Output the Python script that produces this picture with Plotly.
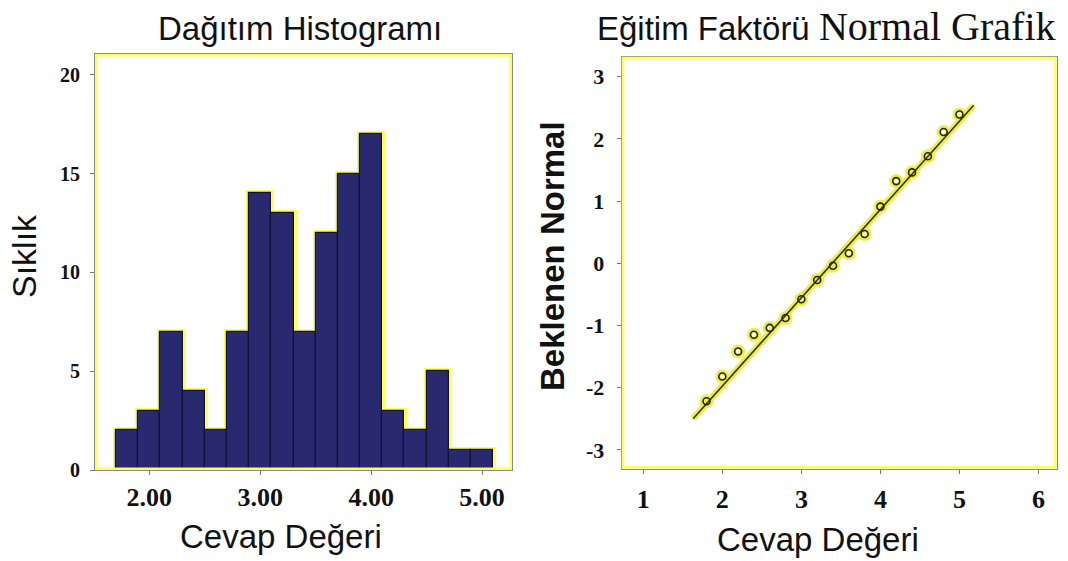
import plotly.graph_objects as go

# ---------------- data ----------------
hist_centers = [1.8, 2.0, 2.2, 2.4, 2.6, 2.8, 3.0, 3.2, 3.4, 3.6, 3.8, 4.0, 4.2, 4.4, 4.6, 4.8, 5.0]
hist_counts = [2, 3, 7, 4, 2, 7, 14, 13, 7, 12, 15, 17, 3, 2, 5, 1, 1]
bin_width = 0.2

qq_x = [1.8, 2.0, 2.2, 2.4, 2.6, 2.8, 3.0, 3.2, 3.4, 3.6, 3.8, 4.0, 4.2, 4.4, 4.6, 4.8, 5.0]
qq_y = [-2.22, -1.82, -1.42, -1.15, -1.04, -0.88, -0.58, -0.27, -0.04, 0.16, 0.47, 0.91,
        1.32, 1.46, 1.72, 2.11, 2.39]
line_x = [1.63, 5.18]
line_y = [-2.50, 2.54]

hist_xticks = [2, 3, 4, 5]
hist_xlabels = ["2.00", "3.00", "4.00", "5.00"]
hist_yticks = [0, 5, 10, 15, 20]
qq_xticks = [1, 2, 3, 4, 5, 6]
qq_yticks = [-3, -2, -1, 0, 1, 2, 3]
qq_ylabels = ["-3", "-2", "-1", "0", "1", "2", "3"]

# ---------------- layout helpers ----------------
W, H = 1068, 561
def px_x(p): return p / W
def px_y(p): return 1 - p / H

NAVY = "#29296F"
YEL = "#FFFF55"
GLOW = "#EEEE44"
SANS = "Liberation Sans, Arial, sans-serif"
SERIF = "Liberation Serif, Times New Roman, serif"

fig = go.Figure()

# histogram glow + bars
fig.add_trace(go.Bar(x=hist_centers, y=hist_counts, width=bin_width,
                     marker=dict(color=YEL, line=dict(color=YEL, width=6)),
                     xaxis="x", yaxis="y", showlegend=False, hoverinfo="skip"))
fig.add_trace(go.Bar(x=hist_centers, y=hist_counts, width=bin_width,
                     marker=dict(color=NAVY, line=dict(color="#111133", width=1.2)),
                     xaxis="x", yaxis="y", showlegend=False))

# Q-Q glow
fig.add_trace(go.Scatter(x=line_x, y=line_y, mode="lines",
                         line=dict(color=GLOW, width=7), xaxis="x2", yaxis="y2",
                         showlegend=False, hoverinfo="skip"))
fig.add_trace(go.Scatter(x=qq_x, y=qq_y, mode="markers",
                         marker=dict(symbol="circle-open", size=9, color=GLOW,
                                     line=dict(color=GLOW, width=5)),
                         xaxis="x2", yaxis="y2", showlegend=False, hoverinfo="skip"))
fig.add_trace(go.Scatter(x=line_x, y=line_y, mode="lines",
                         line=dict(color="#333322", width=1.6), xaxis="x2", yaxis="y2",
                         showlegend=False))
fig.add_trace(go.Scatter(x=qq_x, y=qq_y, mode="markers",
                         marker=dict(symbol="circle-open", size=7, color="#222211",
                                     line=dict(color="#222211", width=1.6)),
                         xaxis="x2", yaxis="y2", showlegend=False))

axis_common = dict(showgrid=False, zeroline=False, showline=True, linecolor="#8a8a8a",
                   linewidth=1, mirror=True, ticks="outside", ticklen=4, tickcolor="#777",
                   tickwidth=1, automargin=False)

fig.update_layout(
    width=W, height=H, margin=dict(l=0, r=0, t=0, b=0, autoexpand=False),
    paper_bgcolor="white", plot_bgcolor="white", barmode="overlay", bargap=0,
    xaxis=dict(domain=[px_x(95), px_x(512)], range=[1.51, 5.27], anchor="y",
               tickvals=hist_xticks, ticktext=hist_xlabels,
               tickfont=dict(family=SERIF, size=26, color="#111", weight="bold"),
               ticklabelstandoff=0, **axis_common),
    yaxis=dict(domain=[px_y(470), px_y(54)], range=[0, 21.06], anchor="x",
               tickvals=hist_yticks,
               tickfont=dict(family=SERIF, size=20, color="#111", weight="bold"),
               ticklabelstandoff=6, **axis_common),
    xaxis2=dict(domain=[px_x(621.7), px_x(1056.7)], range=[0.727, 6.23], anchor="y2",
                tickvals=qq_xticks,
                tickfont=dict(family=SERIF, size=26, color="#111", weight="bold"),
                ticklabelstandoff=3, **axis_common),
    yaxis2=dict(domain=[px_y(468.5), px_y(56.7)], range=[-3.30, 3.32], anchor="x2",
                tickvals=qq_yticks, ticktext=qq_ylabels,
                tickfont=dict(family=SERIF, size=22, color="#111", weight="bold"),
                ticklabelstandoff=8, **axis_common),
)

# yellow inner frames
for xr, yr in (("x domain", "y domain"), ("x2 domain", "y2 domain")):
    fig.add_shape(type="rect", xref=xr, yref=yr, x0=0.003, x1=0.997, y0=0.003, y1=0.997,
                  line=dict(color=YEL, width=2.5), layer="above")

def ann(text, x, y, size, family=SANS, bold=False, angle=0):
    fig.add_annotation(text=text, x=px_x(x), y=px_y(y), xref="paper", yref="paper",
                       showarrow=False, xanchor="center", yanchor="middle", textangle=angle,
                       font=dict(family=family, size=size, color="#111",
                                 weight="bold" if bold else "normal"))

ann("Dağıtım Histogramı", 300, 28, 33)
ann("Eğitim Faktörü <span style='font-family:Liberation Serif;font-size:40px'>Normal Grafik</span>",
    826, 27, 33)
ann("Cevap Değeri", 281, 536, 33)
ann("Cevap Değeri", 818, 539, 33)
ann("Sıklık", 24, 256, 34, angle=-90)
ann("Beklenen Normal", 553, 256, 33, bold=True, angle=-90)

fig.write_html("out.html", config={"displayModeBar": False},
               post_script="document.body.style.margin='0';document.body.style.overflow='hidden';")
